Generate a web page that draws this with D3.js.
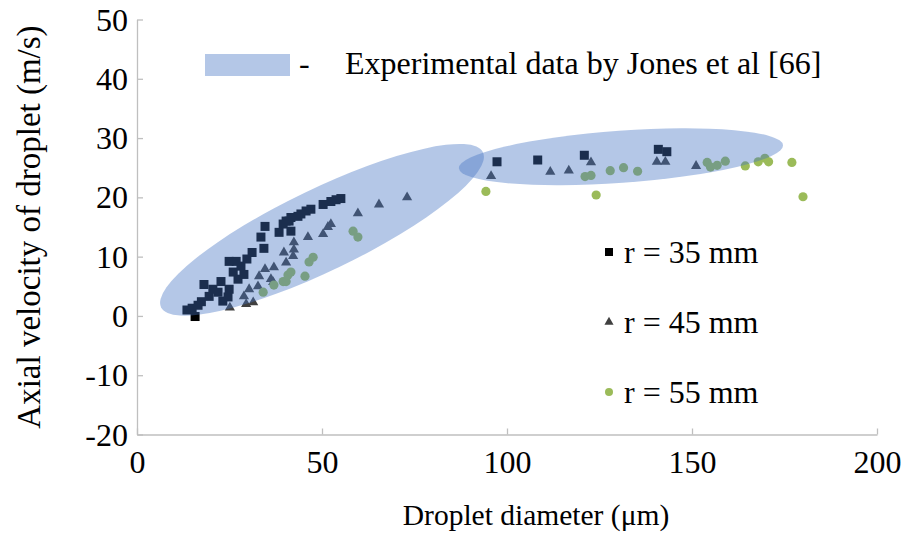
<!DOCTYPE html>
<html lang="en">
<head>
<meta charset="UTF-8">
<title>Axial velocity vs droplet diameter</title>
<script src="https://d3js.org/d3.v7.min.js"></script>
<style>
  body { margin: 0; background: #fff; }
  svg text { font-family: "Liberation Serif", "Times New Roman", serif; fill: #000; }
</style>
</head>
<body>
<div id="chart"></div>
<script>
// droplet diameter (um), axial velocity (m/s)
const r35 = [[15.7,-0.1],[13.5,1.0],[14.9,1.3],[16.5,1.8],[17.4,2.4],[18.1,5.3],[19.5,3.3],[20.5,4.5],
  [21.9,4.0],[22.7,5.8],[23.2,2.5],[24.6,3.2],[24.9,9.2],[24.9,4.5],[26.0,7.4],[26.8,9.2],[27.3,6.2],
  [28.1,8.4],[28.9,7.0],[29.7,9.6],[31.1,10.7],[33.5,13.3],[34.3,11.4],[34.6,15.1],[38.4,14.1],
  [39.5,15.5],[40.3,16.0],[41.1,16.0],[41.6,16.6],[41.6,14.3],[43.5,16.8],[44.3,17.2],[45.7,17.7],
  [47.0,18.0],[50.3,18.8],[52.4,19.3],[53.8,19.6],[55.1,19.8],
  [97.3,26.0],[108.3,26.3],[120.9,27.1],[140.9,28.1],[143.2,27.7]];
const r45 = [[25.1,1.4],[28.9,3.3],[29.5,2.0],[30.3,4.5],[31.4,2.3],[32.7,5.0],[33.0,6.7],[34.6,7.9],
  [36.2,6.2],[36.8,5.7],[37.0,8.2],[39.7,10.7],[40.3,9.0],[42.2,10.1],[42.4,11.2],[42.4,12.4],
  [46.2,13.3],[50.3,13.8],[51.6,15.0],[52.4,15.5],[59.7,17.3],[65.4,18.8],[73.0,20.0],
  [95.7,23.6],[111.7,24.3],[116.7,24.5],[122.7,25.9],[140.5,26.0],[142.8,26.0],[151.1,25.3]];
const r55 = [[34.1,4.0],[37.0,5.2],[39.5,5.8],[40.3,5.8],[40.8,6.9],[41.6,7.4],[45.4,6.7],[46.5,9.1],
  [47.6,9.9],[58.4,14.3],[59.7,13.3],[94.3,21.0],[121.1,23.5],[122.7,23.7],[124.1,20.4],[127.9,24.5],
  [131.5,25.0],[135.3,24.4],[154.1,25.9],[155.0,25.1],[156.8,25.4],[159.0,26.1],[164.4,25.3],
  [167.9,26.0],[169.7,26.6],[170.7,26.0],[177.0,25.9],[180.0,20.1]];

// experimental regions (Jones et al): ends of the long axis, in data units
const jonesRegions = [
  [[6.5, 1.45], [93.5, 27.6]],
  [[87.0, 24.9], [174.6, 28.8]]
];

const xTicks = [0, 50, 100, 150, 200];
const yTicks = [-20, -10, 0, 10, 20, 30, 40, 50];
const seriesNames = ["r = 35 mm", "r = 45 mm", "r = 55 mm"];

const W = 906, H = 535;
const serif = "'Liberation Serif', 'Times New Roman', serif";
const svg = d3.select("#chart").append("svg").attr("width", W).attr("height", H);

const x = d3.scaleLinear().domain([0, 200]).range([137, 877]);
const y = d3.scaleLinear().domain([-20, 50]).range([434.5, 19.5]);

const axisColor = "#bfbfbf";
const fmt = d => String(d);   // plain hyphen for negatives, like the original

// axes
const gx = svg.append("g").attr("transform", `translate(0,${y(-20)})`)
  .call(d3.axisBottom(x).tickValues(xTicks).tickFormat(fmt).tickSize(-6).tickPadding(22).tickSizeOuter(0));
const gy = svg.append("g").attr("transform", `translate(${x(0)},0)`)
  .call(d3.axisLeft(y).tickValues(yTicks).tickFormat(fmt).tickSize(-6).tickPadding(9).tickSizeOuter(0));
[gx, gy].forEach(g => {
  g.attr("font-family", serif).attr("font-size", 32);
  g.select(".domain").attr("stroke", axisColor).attr("stroke-width", 1.3);
  g.selectAll(".tick line").attr("stroke", axisColor).attr("stroke-width", 1.3);
  g.selectAll(".tick text").style("font-family", serif).style("font-size", "32px").attr("fill", "#000");
});
gy.selectAll(".tick text").attr("dy", "0.33em");
gx.selectAll(".tick text").attr("dy", "0.5em");

// markers
const navy = "#000000", grey = "#404040", green = "#9bbb59";
const sq = 9;
svg.append("g").selectAll("rect").data(r35).join("rect")
  .attr("x", d => x(d[0]) - sq / 2).attr("y", d => y(d[1]) - sq / 2)
  .attr("width", sq).attr("height", sq).attr("fill", navy);

const tri = d3.symbol().type(d3.symbolTriangle).size(45);
svg.append("g").selectAll("path").data(r45).join("path")
  .attr("d", tri).attr("transform", d => `translate(${x(d[0])},${y(d[1])})`)
  .attr("fill", grey);

svg.append("g").selectAll("circle").data(r55).join("circle")
  .attr("cx", d => x(d[0])).attr("cy", d => y(d[1])).attr("r", 4.6)
  .attr("fill", green);

// shaded experimental regions drawn over the points
const halfWidths = [41, 26];
svg.append("g").selectAll("ellipse").data(jonesRegions).join("ellipse")
  .each(function (d, i) {
    const x1 = x(d[0][0]), y1 = y(d[0][1]), x2 = x(d[1][0]), y2 = y(d[1][1]);
    const cx = (x1 + x2) / 2, cy = (y1 + y2) / 2;
    const rx = Math.hypot(x2 - x1, y2 - y1) / 2;
    const ang = Math.atan2(y2 - y1, x2 - x1) * 180 / Math.PI;
    d3.select(this).attr("cx", 0).attr("cy", 0).attr("rx", rx).attr("ry", halfWidths[i])
      .attr("transform", `translate(${cx},${cy}) rotate(${ang})`);
  })
  .attr("fill", "#4472c4").attr("fill-opacity", 0.4);

// legend: experimental data
svg.append("rect").attr("x", 205).attr("y", 54).attr("width", 85).attr("height", 22).attr("fill", "#b4c7e7");
svg.append("text").attr("x", 299).attr("y", 74).style("font-size", "32px").text("-");
svg.append("text").attr("x", 345).attr("y", 74).style("font-size", "32px")
  .text("Experimental data by Jones et al [66]");

// legend: series
const lg = svg.append("g");
const legY = [252, 322, 392];
lg.append("rect").attr("x", 609 - 4).attr("y", legY[0] - 4).attr("width", 8).attr("height", 8).attr("fill", navy);
lg.append("path").attr("d", d3.symbol().type(d3.symbolTriangle).size(36))
  .attr("transform", `translate(609,${legY[1]})`).attr("fill", grey);
lg.append("circle").attr("cx", 609).attr("cy", legY[2]).attr("r", 4).attr("fill", green);
seriesNames.forEach((s, i) => {
  lg.append("text").attr("x", 624).attr("y", legY[i]).attr("dy", "0.33em").style("font-size", "32px").text(s);
});

// axis titles
svg.append("text").attr("x", 536).attr("y", 525).attr("text-anchor", "middle")
  .style("font-size", "29.5px").text("Droplet diameter (\u03bcm)");
svg.append("text").attr("transform", `translate(40,${(y(-20) + y(50)) / 2}) rotate(-90)`)
  .attr("text-anchor", "middle").style("font-size", "33px").text("Axial velocity of droplet (m/s)");
</script>
</body>
</html>
